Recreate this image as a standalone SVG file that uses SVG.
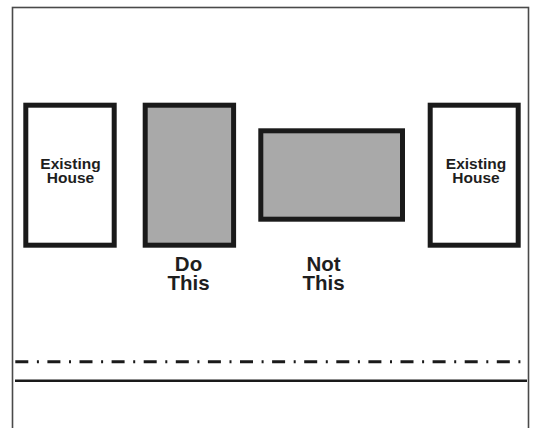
<svg xmlns="http://www.w3.org/2000/svg" width="533" height="428" viewBox="0 0 533 428">
<style>
.house{fill:#fff;stroke:#1a1a1a;stroke-width:5}
.new{fill:#a9a9a9;stroke:#1a1a1a;stroke-width:5}
.lbl{font-family:"Liberation Sans",Arial,sans-serif;font-weight:bold;fill:#1e1e1e;text-anchor:middle}
.small{font-size:15.5px}
.big{font-size:20.5px}
</style>
<rect x="0" y="0" width="533" height="428" fill="#fff"/>
<rect id="frame" x="12.5" y="7.5" width="516" height="440" fill="none" stroke="#4a4a4a" stroke-width="1.6"/>
<g id="house-left">
<rect class="house" x="25.8" y="105.2" width="88.4" height="140"/>
<text class="lbl small" x="70.5" y="169">Existing</text>
<text class="lbl small" x="70.5" y="183">House</text>
</g>
<g id="do-this">
<rect class="new" x="145.2" y="105.2" width="88.4" height="140"/>
<text class="lbl big" x="188.5" y="271">Do</text>
<text class="lbl big" x="188.5" y="289.5">This</text>
</g>
<g id="not-this">
<rect class="new" x="260.8" y="130.8" width="141.7" height="88.4"/>
<text class="lbl big" x="323.5" y="271">Not</text>
<text class="lbl big" x="323.5" y="289.5">This</text>
</g>
<g id="house-right">
<rect class="house" x="430.2" y="105.2" width="88" height="140"/>
<text class="lbl small" x="476" y="169">Existing</text>
<text class="lbl small" x="476" y="183">House</text>
</g>
<g id="connectors">
<line x1="15.3" y1="361.7" x2="521" y2="361.7" stroke="#1a1a1a" stroke-width="3" stroke-dasharray="13 8.6 2 8.5"/>
<line x1="15" y1="380.7" x2="527" y2="380.7" stroke="#1a1a1a" stroke-width="2.4"/>
</g>
</svg>
